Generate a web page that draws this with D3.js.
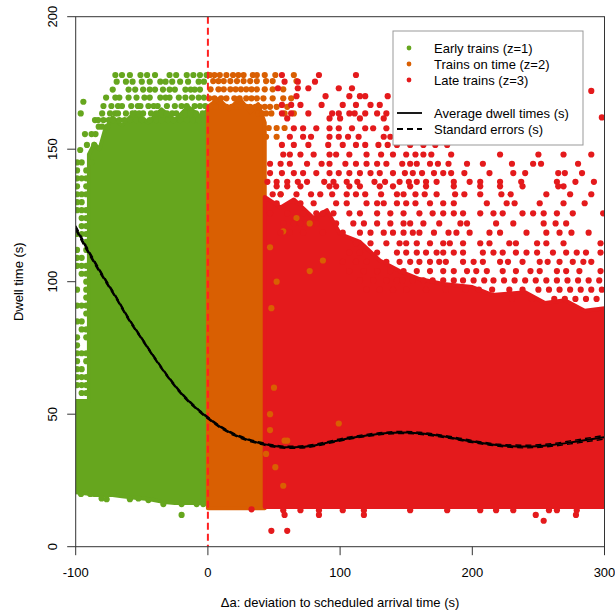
<!DOCTYPE html>
<html>
<head>
<meta charset="utf-8">
<script src="https://cdn.jsdelivr.net/npm/d3@7"></script>
<style>
  body { margin: 0; background: #fff; }
  svg text { font-family: "Liberation Sans", Arial, sans-serif; font-size: 13px; fill: #000; }
</style>
</head>
<body>
<div id="chart"></div>
<script>
// ---- data ----
const xTicks = [-100, 0, 100, 200, 300];
const yTicks = [0, 50, 100, 150, 200];

// dense blocks: [x, lowest dwell, highest dwell]
const greenBand = [[-100, 20.5, 55], [-90.01, 20, 55], [-90, 20, 148], [-86, 19.5, 152], [-82, 19.5, 150],
  [-78, 19.5, 157], [-72, 19.5, 162], [-65, 19, 159], [-55, 18.5, 164], [-45, 18, 160], [-35, 17, 165],
  [-25, 16.5, 161], [-15, 16.5, 166], [-5, 16.5, 162], [0, 16.5, 165]];
const orangeBand = [[0, 14.5, 166], [8, 14.5, 169], [16, 14.5, 165], [24, 14.5, 169], [32, 14.5, 164],
  [38, 14.5, 167], [43, 14.5, 160]];
const redBand = [[43, 15, 132], [55, 15, 128], [65, 15, 131], [80, 15, 124], [90, 15, 127], [100, 15, 118],
  [115, 15, 115], [130, 15, 108], [145, 15, 104], [160, 15, 101], [180, 15, 99], [200, 15, 98], [215, 15, 95],
  [240, 15, 96], [255, 15, 92], [270, 15, 93], [285, 15, 89], [300, 15, 90]];

// scattered points, row by row: [dwell, [deviations]]
const greenRows = [
  [178, [-70, -65, -59, -51, -46, -40, -29, -24, -16, -11, -6, -1]],
  [175.5, [-69, -62, -57, -50, -44, -36, -32, -27, -21, -15, -7, -3]],
  [172.5, [-72, -60, -55, -49, -44, -40, -34, -29, -25, -17, -13, -10, -6]],
  [169.5, [-77, -70, -67, -60, -54, -48, -44, -36, -32, -29, -22, -17, -12, -7, -3]],
  [167.9, [-94.2]],
  [166.3, [-79, -73, -68, -65, -58, -53, -51, -45, -41, -38, -31, -25, -20, -16, -10, -6, -2]],
  [163.5, [-96.2, -80, -74, -70, -68, -62, -57, -52, -49, -43, -39, -35, -31, -27, -24, -17, -13, -9, -4]],
  [161, [-85.4, -83, -79, -75, -72, -67, -63, -59, -54, -50, -44, -39, -35, -30, -26, -21, -16, -11, -7, -3]],
  [158.5, [-82.6, -80, -76]],
  [155.7, [-93, -88, -85]],
  [151.6, [-91.5, -86]],
  [149.7, [-96.6]],
  [145, [-99, -95.5, -88]], [142, [-99, -92]], [139, [-99, -95.5, -92]], [136, [-99, -92]],
  [133, [-99, -95.5, -92]], [130, [-99, -95.5]], [127, [-99, -95.5, -92]], [124, [-95.5, -92]],
  [121, [-95.5, -92]], [118, [-99, -95.5, -92]], [115, [-92]], [112, [-99, -92]], [109, [-99, -95.5]],
  [106, [-99, -95.5, -92]], [103, [-95.5, -92]], [100, [-92]], [97, [-99, -92]], [94, [-92]],
  [91, [-99, -95.5, -92]], [88, [-92]], [85, [-99, -95.5]], [82, [-95.5, -92]], [79, [-99, -92]],
  [76, [-99]], [73, [-99, -95.5, -92]], [70, [-99, -92]],
  [67, [-99, -95.5]], [64, [-99, -95.5, -92]], [61, [-99, -95.5, -92]], [58, [-95.5, -92]]
];
const greenSingles = [[-96, 19.9], [-89, 19.9], [-80.4, 18.2], [-76.6, 17.9], [-71.6, 20.1], [-59, 17.9],
  [-52.6, 18.2], [-45, 17.6], [-33.7, 16.1], [-19.9, 16.1], [-8.5, 16.1], [-3.5, 16.1], [-19.9, 12]];

const orangeRows = [
  [178, [1.5, 5, 9, 14, 19, 23, 27, 34, 37, 43, 51, 65]],
  [175.7, [4, 8, 12, 17, 22, 27, 32, 37, 44, 49, 67]],
  [172.6, [2, 8, 12, 17, 21, 25, 29, 33, 37, 43, 49, 57]],
  [169.2, [1, 5, 10, 14, 20, 24, 29, 33, 37, 42, 49, 57, 63]],
  [166, [2, 6, 10, 14, 18, 22, 25, 29, 32, 36, 39, 43, 47, 52, 60]],
  [163.5, [38, 41, 44, 48, 58, 65]],
  [158, [46, 52, 58]],
  [154.7, [44, 52]]
];
const orangeSingles = [[55, 133], [67, 124], [77, 122], [87, 108], [77, 104], [47, 113], [57, 119], [47, 50],
  [57, 23], [51, 30], [44, 35], [58, 40], [47, 44], [99, 46.5], [60, 40], [50, 60], [48, 90], [52, 100]];

const redRows = [
  [178, [56, 84, 112]],
  [175.5, [58, 68, 81]],
  [173, [53, 68, 76, 99, 109]],
  [172, [290]],
  [170, [67, 89, 107, 115, 119, 136]],
  [166.7, [56, 63, 70, 86, 102, 112, 123, 130]],
  [163.5, [56, 63, 76, 94, 99, 107, 111, 119, 128, 135]],
  [162, [298]],
  [161.6, [60, 92, 100, 115, 133]],
  [157.9, [65, 72, 82, 92, 99, 109, 119, 125, 135]],
  [154.7, [62, 72, 78, 92, 99, 106, 114, 133, 138]],
  [151.6, [56, 65, 76, 91, 102, 112, 119, 129, 136, 143, 153, 163, 172, 181]],
  [148, [57, 62, 70, 80, 92, 97, 107, 120, 131, 140, 150, 157, 163, 169, 184, 221, 250, 269, 290]],
  [144.5, [47, 55, 62, 75, 86, 92, 104, 112, 120, 128, 135, 147, 153, 158, 168, 174, 182, 196, 208, 230, 246, 252, 280]],
  [141, [47, 56, 65, 72, 82, 92, 99, 107, 115, 123, 130, 140, 149, 155, 162, 171, 178, 184, 194, 213, 231, 240, 265, 270, 283]],
  [137.7, [45, 52, 60, 68, 75, 88, 95, 105, 113, 126, 134, 145, 152, 158, 165, 173, 186, 198, 206, 221, 237, 264, 278, 292]],
  [136, [52, 60, 70, 92, 97, 107, 115, 130, 140, 153, 165, 186, 206, 221, 238, 265, 269]],
  [133, [49, 55, 67, 78, 85, 94, 105, 112, 119, 131, 143, 148, 157, 164, 173, 187, 194, 206, 222, 229, 256, 274, 290]],
  [129.6, [52, 70, 80, 97, 105, 120, 128, 133, 143, 150, 157, 168, 178, 186, 211, 226, 232, 251, 269, 285]],
  [125.8, [47, 60, 72, 82, 87, 95, 107, 115, 128, 138, 148, 160, 170, 178, 186, 193, 206, 216, 223, 238, 246, 254, 264, 276, 299]],
  [122, [57, 65, 70, 82, 97, 110, 118, 128, 138, 148, 153, 163, 175, 191, 196, 218, 231, 254, 263, 271]],
  [118.5, [55, 62, 72, 87, 102, 115, 123, 133, 140, 148, 155, 160, 171, 182, 188, 198, 213, 221, 241, 256, 266, 275, 288]],
  [114.5, [112, 123, 135, 145, 150, 158, 168, 178, 183, 193, 206, 213, 228, 233, 249, 256, 269, 297]],
  [111, [107, 115, 128, 143, 150, 158, 165, 173, 178, 186, 193, 208, 216, 223, 233, 241, 249, 261, 271, 279, 286, 297]],
  [107.5, [102, 112, 120, 135, 145, 153, 160, 168, 175, 180, 193, 201, 208, 221, 227, 238, 251, 257, 266, 276, 284, 290]],
  [104, [107, 118, 128, 138, 148, 158, 168, 178, 186, 196, 203, 211, 223, 233, 244, 251, 264, 271, 281, 297]],
  [100.5, [115, 125, 135, 143, 147, 155, 163, 170, 178, 186, 193, 201, 209, 216, 224, 232, 240, 248, 256, 264, 272, 280, 288, 296]],
  [97, [120, 130, 140, 150, 165, 180, 195, 205, 215, 228, 238, 250, 258, 266, 274, 282, 290, 298]],
  [93.5, [230, 245, 262, 270, 278, 286, 294]],
  [13.8, [57, 70, 84, 102, 118, 153, 181, 206, 218, 231, 258, 264, 279]]
];
const redSingles = [[48, 6], [60, 6], [58, 12], [84, 12], [118, 12], [248, 12], [254, 9.8], [278.4, 12], [33, 14.1]];

// average dwell time curve and its standard error
const avgX = [-100, -90, -80, -70, -60, -50, -40, -30, -20, -10, 0, 10, 20, 30, 40, 50, 60, 70, 80, 90, 100,
  120, 140, 150, 160, 180, 200, 220, 240, 260, 280, 300];
const avgY = [120.3, 111, 102.5, 94.5, 86, 78.5, 71, 64, 57.8, 52.8, 48.6, 45, 42.3, 40.4, 39, 38, 37.5, 37.6,
  38.2, 39.2, 40.3, 42, 43, 43.1, 42.8, 41.5, 39.7, 38.3, 37.8, 38.4, 39.8, 41.3];
const avgSE = [0.8, 0.7, 0.6, 0.5, 0.5, 0.4, 0.4, 0.4, 0.4, 0.4, 0.4, 0.4, 0.4, 0.4, 0.4, 0.4, 0.4, 0.4,
  0.4, 0.4, 0.4, 0.4, 0.4, 0.4, 0.4, 0.4, 0.4, 0.4, 0.5, 0.5, 0.6, 0.7];

const groups = [
  {label: "Early trains (z=1)", color: "#66a61e"},
  {label: "Trains on time (z=2)", color: "#d95f02"},
  {label: "Late trains (z=3)", color: "#e41a1c"}
];

// ---- chart ----
const width = 615, height = 613;
const margin = {top: 16.7, right: 10.5, bottom: 66.3, left: 75.7};

const svg = d3.select("#chart").append("svg")
  .attr("width", width)
  .attr("height", height);

const x = d3.scaleLinear().domain([-100, 300]).range([margin.left, width - margin.right]);
const y = d3.scaleLinear().domain([0, 200]).range([height - margin.bottom, margin.top]);

svg.append("clipPath").attr("id", "plotClip")
  .append("rect")
  .attr("x", x(-100)).attr("y", y(200))
  .attr("width", x(300) - x(-100)).attr("height", y(0) - y(200));

const plot = svg.append("g").attr("clip-path", "url(#plotClip)");

const band = d3.area()
  .x(d => x(d[0]))
  .y0(d => y(d[1]))
  .y1(d => y(d[2]));

const rowsToPoints = rows => rows.flatMap(r => r[1].map(v => [v, r[0]]));
const R = 3.1;

function drawBand(data, color) {
  plot.append("path")
    .datum(data)
    .attr("d", band)
    .attr("fill", color)
    .attr("stroke", color)
    .attr("stroke-width", 4)
    .attr("stroke-linejoin", "round");
}
function drawDots(points, color) {
  plot.append("g").selectAll("circle")
    .data(points)
    .join("circle")
    .attr("cx", d => x(d[0]))
    .attr("cy", d => y(d[1]))
    .attr("r", R)
    .attr("fill", color);
}

drawBand(greenBand, groups[0].color);
drawDots(rowsToPoints(greenRows).concat(greenSingles), groups[0].color);
drawBand(orangeBand, groups[1].color);
drawDots(rowsToPoints(orangeRows), groups[1].color);
drawBand(redBand, groups[2].color);
drawDots(orangeSingles, groups[1].color);
drawDots(rowsToPoints(redRows).concat(redSingles), groups[2].color);

// dashed reference line at zero deviation
plot.append("line")
  .attr("x1", x(0)).attr("x2", x(0))
  .attr("y1", y(200)).attr("y2", y(0))
  .attr("stroke", "#ff2020")
  .attr("stroke-width", 2)
  .attr("stroke-dasharray", "7,4");

// average curve + standard errors
const avg = avgX.map((v, i) => ({x: v, y: avgY[i], se: avgSE[i]}));
const curve = d3.line().curve(d3.curveMonotoneX).x(d => x(d.x));

plot.append("path").datum(avg)
  .attr("d", curve.y(d => y(d.y)))
  .attr("fill", "none").attr("stroke", "#000").attr("stroke-width", 2);
[-1, 1].forEach(s => {
  plot.append("path").datum(avg)
    .attr("d", curve.y(d => y(d.y + s * d.se)))
    .attr("fill", "none").attr("stroke", "#000").attr("stroke-width", 1.4)
    .attr("stroke-dasharray", "6,4");
});

// box + axes
svg.append("rect")
  .attr("x", x(-100)).attr("y", y(200))
  .attr("width", x(300) - x(-100)).attr("height", y(0) - y(200))
  .attr("fill", "none").attr("stroke", "#333").attr("stroke-width", 1);

const xAxis = svg.append("g");
xAxis.selectAll("line").data(xTicks).join("line")
  .attr("x1", d => x(d)).attr("x2", d => x(d))
  .attr("y1", y(0)).attr("y2", y(0) + 8.5)
  .attr("stroke", "#333");
xAxis.selectAll("text").data(xTicks).join("text")
  .attr("x", d => x(d)).attr("y", y(0) + 30.5)
  .attr("text-anchor", "middle")
  .text(d => d);

const yAxis = svg.append("g");
yAxis.selectAll("line").data(yTicks).join("line")
  .attr("x1", x(-100) - 8.5).attr("x2", x(-100))
  .attr("y1", d => y(d)).attr("y2", d => y(d))
  .attr("stroke", "#333");
yAxis.selectAll("text").data(yTicks).join("text")
  .attr("transform", d => `translate(${x(-100) - 19},${y(d)}) rotate(-90)`)
  .attr("text-anchor", "middle")
  .text(d => d);

svg.append("text")
  .attr("x", (x(-100) + x(300)) / 2).attr("y", 607)
  .attr("text-anchor", "middle")
  .text("\u0394a: deviation to scheduled arrival time (s)");

svg.append("text")
  .attr("transform", `translate(23,${(y(0) + y(200)) / 2}) rotate(-90)`)
  .attr("text-anchor", "middle")
  .text("Dwell time (s)");

// legend
const legend = svg.append("g").attr("transform", "translate(393,31)");
legend.append("rect")
  .attr("width", 190).attr("height", 114)
  .attr("fill", "#fff").attr("stroke", "#999");
groups.forEach((g, i) => {
  const ly = 17 + i * 16;
  legend.append("circle").attr("cx", 16).attr("cy", ly).attr("r", 2.4).attr("fill", g.color);
  legend.append("text").attr("x", 41).attr("y", ly + 4.5).text(g.label);
});
[["Average dwell times (s)", null], ["Standard errors (s)", "6,4"]].forEach((e, i) => {
  const ly = 82 + i * 16;
  legend.append("line")
    .attr("x1", 4).attr("x2", 29).attr("y1", ly).attr("y2", ly)
    .attr("stroke", "#000").attr("stroke-width", 1.8)
    .attr("stroke-dasharray", e[1]);
  legend.append("text").attr("x", 41).attr("y", ly + 4.5).text(e[0]);
});
</script>
</body>
</html>
